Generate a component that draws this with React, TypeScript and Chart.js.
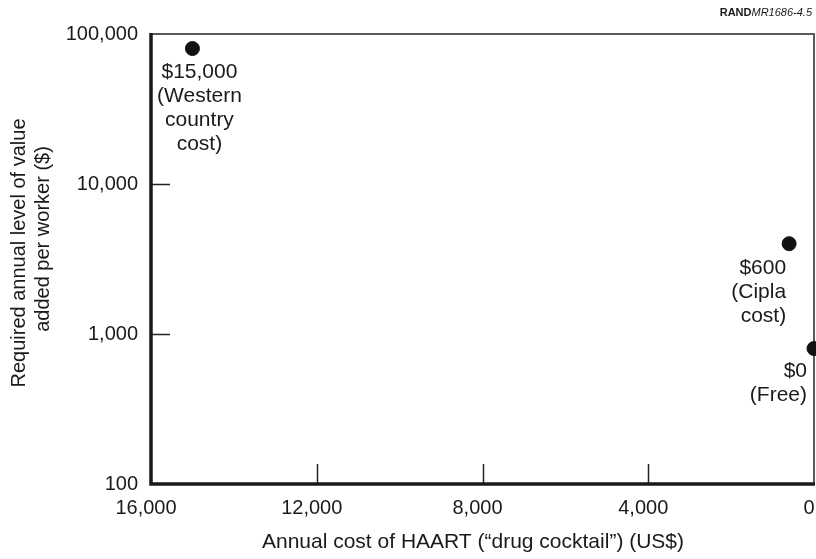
import { useEffect, useRef } from 'react';
import { Chart, registerables } from 'chart.js';

Chart.register(...registerables);

const xValues = [15000, 600, 0];
const yValues = [80000, 4000, 800];
const pointLabels = [
  ['$15,000', '(Western', 'country', 'cost)'],
  ['$600', '(Cipla', 'cost)'],
  ['$0', '(Free)'],
];
const xTicks = [16000, 12000, 8000, 4000, 0];
const yTicks = [100, 1000, 10000, 100000];
const xTitle = 'Annual cost of HAART (\u201Cdrug cocktail\u201D) (US$)';
const yTitleLines = ['Required annual level of value', 'added per worker ($)'];
const sourceBold = 'RAND';
const sourceItalic = 'MR1686-4.5';

const FONT = '"Liberation Sans", Arial, Helvetica, sans-serif';
const INK = '#1a1a1a';

// label placement relative to each point (style, not data)
const labelStyle = [
  { align: 'center', dx: 7, dy: 24 },
  { align: 'right', dx: -3, dy: 25 },
  { align: 'right', dx: -7, dy: 23 },
];

export default function App() {
  const ref = useRef<HTMLCanvasElement>(null);

  useEffect(() => {
    const canvas = ref.current!;
    const fmt = (v: number) => v.toLocaleString('en-US');

    const decor = {
      id: 'decor',
      beforeDatasetsDraw(chart: any) {
        const { ctx, chartArea: a, scales } = chart;
        ctx.save();
        ctx.strokeStyle = '#5a5a5a';
        ctx.lineWidth = 2;
        ctx.beginPath();
        ctx.moveTo(a.left, a.top);
        ctx.lineTo(a.right, a.top);
        ctx.lineTo(a.right, a.bottom);
        ctx.stroke();

        ctx.strokeStyle = '#222';
        ctx.lineWidth = 1.5;
        xTicks.slice(1, -1).forEach((v) => {
          const px = Math.round(scales.x.getPixelForValue(v)) + 0.5;
          ctx.beginPath();
          ctx.moveTo(px, a.bottom);
          ctx.lineTo(px, a.bottom - 20);
          ctx.stroke();
        });
        yTicks.slice(1, -1).forEach((v) => {
          const py = Math.round(scales.y.getPixelForValue(v)) + 0.5;
          ctx.beginPath();
          ctx.moveTo(a.left, py);
          ctx.lineTo(a.left + 19, py);
          ctx.stroke();
        });

        ctx.strokeStyle = INK;
        ctx.lineWidth = 3.5;
        ctx.beginPath();
        ctx.moveTo(a.left, a.top - 1);
        ctx.lineTo(a.left, a.bottom);
        ctx.lineTo(a.right + 1, a.bottom);
        ctx.stroke();
        ctx.restore();
      },
      afterDraw(chart: any) {
        const { ctx } = chart;
        ctx.save();
        ctx.fillStyle = INK;
        // point labels
        const meta = chart.getDatasetMeta(0);
        ctx.font = `21px ${FONT}`;
        ctx.textBaseline = 'middle';
        meta.data.forEach((el: any, i: number) => {
          const st = labelStyle[i];
          ctx.textAlign = st.align;
          pointLabels[i].forEach((line, j) => {
            ctx.fillText(line, el.x + st.dx, el.y + st.dy + j * 24);
          });
        });
        // x title
        ctx.font = `21px ${FONT}`;
        ctx.textAlign = 'center';
        ctx.fillText(xTitle, 473, 542);
        // y title
        ctx.font = `20px ${FONT}`;
        ctx.save();
        ctx.translate(0, 0);
        ctx.rotate(-Math.PI / 2);
        ctx.fillText(yTitleLines[0], -253, 19);
        ctx.fillText(yTitleLines[1], -239, 43);
        ctx.restore();
        // source
        ctx.textBaseline = 'alphabetic';
        ctx.textAlign = 'left';
        ctx.font = `italic 11px ${FONT}`;
        const wi = ctx.measureText(sourceItalic).width;
        ctx.font = `bold 11px ${FONT}`;
        const wb = ctx.measureText(sourceBold).width;
        const right = 812;
        ctx.fillText(sourceBold, right - wi - wb, 16);
        ctx.font = `italic 11px ${FONT}`;
        ctx.fillText(sourceItalic, right - wi, 16);
        ctx.restore();
      },
    };

    const chart = new Chart(canvas, {
      type: 'scatter',
      data: {
        datasets: [
          {
            data: xValues.map((x, i) => ({ x, y: yValues[i] })),
            backgroundColor: '#111',
            borderColor: '#111',
            pointRadius: 7,
            pointHoverRadius: 7,
            clip: false,
          },
        ],
      },
      options: {
        animation: false,
        responsive: false,
        maintainAspectRatio: false,
        devicePixelRatio: 1,
        events: [],
        layout: { autoPadding: false, padding: { top: 34, right: 2, left: 0, bottom: 0 } },
        plugins: { legend: { display: false }, tooltip: { enabled: false } },
        scales: {
          x: {
            type: 'linear',
            min: 0,
            max: 16000,
            reverse: true,
            afterBuildTicks: (s: any) => {
              s.ticks = xTicks.map((v) => ({ value: v }));
            },
            afterFit: (s: any) => {
              s.height = 75;
              s.paddingLeft = 0;
              s.paddingRight = 0;
            },
            grid: { display: false, drawTicks: false },
            border: { display: false },
            ticks: {
              maxRotation: 0,
              autoSkip: false,
              padding: 12,
              labelOffset: -5,
              color: INK,
              font: { family: FONT, size: 20 },
              callback: (v: any) => fmt(Number(v)),
            },
          },
          y: {
            type: 'logarithmic',
            min: 100,
            max: 100000,
            afterBuildTicks: (s: any) => {
              s.ticks = yTicks.map((v) => ({ value: v }));
            },
            afterFit: (s: any) => {
              s.width = 151;
              s.paddingTop = 0;
              s.paddingBottom = 0;
            },
            grid: { display: false, drawTicks: false },
            border: { display: false },
            ticks: {
              autoSkip: false,
              padding: 13,
              color: INK,
              font: { family: FONT, size: 20 },
              callback: (v: any) => fmt(Number(v)),
            },
          },
        },
      },
      plugins: [decor],
    } as any);

    return () => chart.destroy();
  }, []);

  return (
    <div style={{ position: 'absolute', left: 0, top: 0, width: 816, height: 559, background: '#fff' }}>
      <canvas ref={ref} width={816} height={559} style={{ display: 'block' }} />
    </div>
  );
}
